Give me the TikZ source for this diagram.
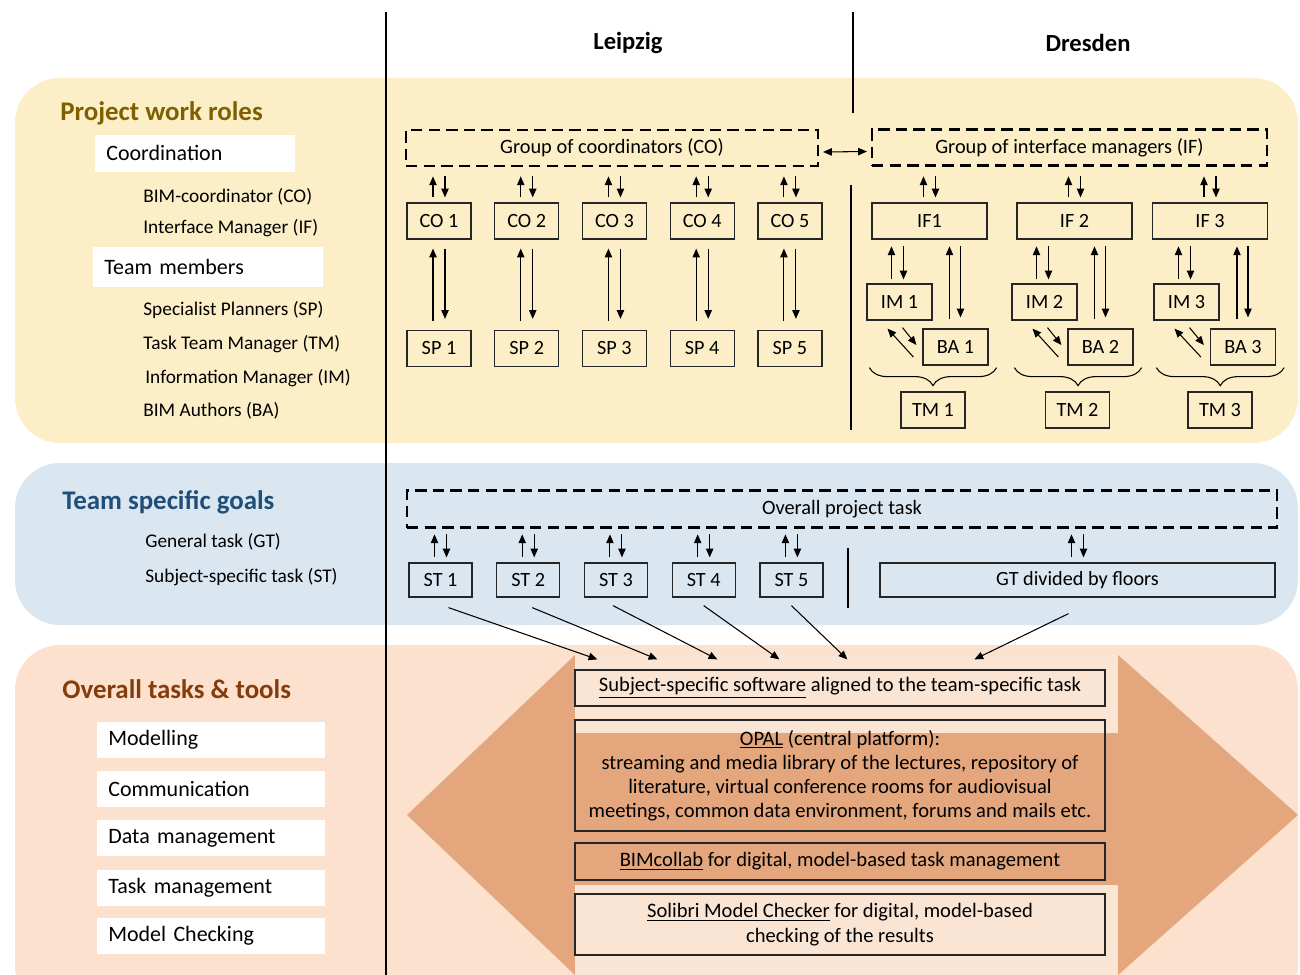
\documentclass[tikz,border=0pt]{standalone}
\usepackage{fontspec}
\setmainfont{Carlito}
\usetikzlibrary{arrows.meta, positioning, calc, decorations.pathreplacing}

\definecolor{roleyellow}{HTML}{FCEFC7}
\definecolor{goalblue}{HTML}{DAE6F0}
\definecolor{toolpeach}{HTML}{FBE1CE}
\definecolor{hexorange}{HTML}{E4A67D}
\definecolor{stripe}{HTML}{FAE4D4}
\definecolor{roletitle}{HTML}{7F6000}
\definecolor{goaltitle}{HTML}{1F4E79}
\definecolor{tooltitle}{HTML}{843C0C}

\tikzset{
  box/.style={
    rectangle, draw=black!85, line width=0.7pt,
    minimum width=#1, minimum height=7.2mm, inner sep=1pt,
    font=\fontsize{11.5}{13.5}\selectfont
  },
  box/.default=12.8mm,
  grp/.style={
    rectangle, draw=black, line width=1.2pt, dash pattern=on 6.5pt off 3.5pt,
    minimum width=#1, minimum height=7.2mm,
    font=\fontsize{11.6}{13.6}\selectfont
  },
  tag/.style={
    rectangle, fill=white, anchor=west, align=left, text width=#1,
    inner xsep=2.2mm, minimum height=7.4mm,
    font=\fontsize{12.5}{14.5}\selectfont
  },
  role/.style={anchor=west, inner sep=0pt, font=\fontsize{11}{13}\selectfont},
  head/.style={anchor=west, inner sep=0pt, text=#1, font=\bfseries\fontsize{15.3}{18}\selectfont},
  arr/.style={line width=0.6pt, -{Triangle[length=5pt,width=4.2pt]}},
  darr/.style={line width=0.6pt, {Triangle[length=5pt,width=4.2pt]}-{Triangle[length=5pt,width=4.2pt]}},
  brc/.style={line width=0.6pt, decorate, decoration={brace, amplitude=3.6mm}}
}

\begin{document}
\begin{tikzpicture}[x=0.2mm, y=-0.2mm,
    city/.style={font=\bfseries\fontsize{14}{16}\selectfont},
    tool/.style={box=106mm, font=\fontsize{11.7}{13.7}\selectfont}]
  \useasboundingbox (0,0) rectangle (1300,975);
  \clip (0,0) rectangle (1300,975);

  % bands
  \fill[roleyellow, rounded corners=9mm] (15,78) rectangle (1298,443);
  \fill[goalblue, rounded corners=9mm] (15,463) rectangle (1298,625);
  \fill[toolpeach, rounded corners=9mm] (15,645) rectangle (1298,1010);
  \fill[hexorange] (407,815) -- (575,655) -- (1118,655) -- (1298,815)
    -- (1118,975) -- (575,975) -- cycle;
  \fill[stripe] (575,655) rectangle (1118,733);
  \fill[stripe] (575,885) rectangle (1118,975);

  % separators
  \draw[line width=0.6pt] (386,12) -- (386,975);
  \draw[line width=0.6pt] (853,12) -- (853,113);
  \draw[line width=0.6pt] (851,185) -- (851,430);
  \draw[line width=0.6pt] (848,548) -- (848,608);

  \node[city] (leipzig) at (628,43) {Leipzig};
  \node[city] (dresden) at (1088,43) {Dresden};

  % left column
  \node[head=roletitle] (roles) at (60,113) {Project work roles};
  \node[tag=35.6mm] (coord) at (95,153) {Coordination};
  \node[role] (rco) at (143,197) {BIM-coordinator (CO)};
  \node[role] (rif) at (143,228) {Interface Manager (IF)};
  \node[tag=41.6mm, minimum height=8mm] (team) at (93,267) {Team members};
  \node[role] (rsp) at (143,310) {Specialist Planners (SP)};
  \node[role] (rtm) at (143,344) {Task Team Manager (TM)};
  \node[role] (rim) at (145,378) {Information Manager (IM)};
  \node[role] (rba) at (143,411) {BIM Authors (BA)};

  \node[head=goaltitle] (goals) at (62,502) {Team specific goals};
  \node[role] (rgt) at (145,542) {General task (GT)};
  \node[role] (rst) at (145,577) {Subject-specific task (ST)};

  \node[head=tooltitle] (tools) at (62,689) {Overall tasks \& tools};
  \node[tag=41.2mm, minimum height=7.2mm] (tmod) at (97,740) {Modelling};
  \node[tag=41.2mm, minimum height=7.2mm] (tcom) at (97,789) {Communication};
  \node[tag=41.2mm, minimum height=7.2mm] (tdat) at (97,838) {Data management};
  \node[tag=41.2mm, minimum height=7.2mm] (ttsk) at (97,888) {Task management};
  \node[tag=41.2mm, minimum height=7.2mm] (tchk) at (97,936) {Model Checking};

  % Leipzig
  \node[grp=82.4mm] (cogrp) at (612,148) {Group of coordinators (CO)};
  \node[box] (co1) at (439,221) {CO 1};
  \node[box, right=4.5mm of co1] (co2) {CO 2};
  \node[box, right=4.5mm of co2] (co3) {CO 3};
  \node[box, right=4.5mm of co3] (co4) {CO 4};
  \node[box, right=4.5mm of co4] (co5) {CO 5};
  \node[box] (sp1) at (439,348.5) {SP 1};
  \node[box, right=4.5mm of sp1] (sp2) {SP 2};
  \node[box, right=4.5mm of sp2] (sp3) {SP 3};
  \node[box, right=4.5mm of sp3] (sp4) {SP 4};
  \node[box, right=4.5mm of sp4] (sp5) {SP 5};

  % Dresden
  \node[grp=79mm] (ifgrp) at (1069.5,147.5) {Group of interface managers (IF)};
  \node[box=23mm] (if1) at (929.5,221) {IF1};
  \node[box=23mm] (if2) at (1074.5,221) {IF 2};
  \node[box=23mm] (if3) at (1210,221) {IF 3};
  \node[box=13mm] (im1) at (899.5,302) {IM 1};
  \node[box=13mm] (im2) at (1044.5,302) {IM 2};
  \node[box=13mm] (im3) at (1186.5,302) {IM 3};
  \node[box=13mm] (ba1) at (955.5,347) {BA 1};
  \node[box=13mm] (ba2) at (1100.5,347) {BA 2};
  \node[box=13mm] (ba3) at (1243,347) {BA 3};
  \node[box] (tm1) at (933,410) {TM 1};
  \node[box] (tm2) at (1077.5,410) {TM 2};
  \node[box] (tm3) at (1220,410) {TM 3};

  \draw[darr] ($(cogrp.east)+(4,4)$) -- ($(ifgrp.west)+(-4,4)$);

  \foreach \i in {1,...,5} {
    \draw[arr] ($(co\i.north)+(-6,-5)$) -- ($(co\i.north)+(-6,-26)$);
    \draw[arr] ($(co\i.north)+(6,-26)$) -- ($(co\i.north)+(6,-5)$);
    \draw[arr] ($(sp\i.north)+(-6,-9)$) -- ($(co\i.south)+(-6,9)$);
    \draw[arr] ($(co\i.south)+(6,9)$) -- ($(sp\i.north)+(6,-11)$);
  }
  \foreach \i in {1,2,3} {
    \draw[arr] ($(if\i.north)+(-6,-5)$) -- ($(if\i.north)+(-6,-26)$);
    \draw[arr] ($(if\i.north)+(6,-26)$) -- ($(if\i.north)+(6,-5)$);
    \draw[arr] ($(im\i.north)+(-8,-4)$) -- ($(im\i.north)+(-8,-37)$);
    \draw[arr] ($(im\i.north)+(4,-37)$) -- ($(im\i.north)+(4,-4)$);
    \draw[arr] ($(ba\i.north)+(-6,-9)$) -- ($(ba\i.north)+(-6,-82)$);
    \draw[arr] ($(ba\i.north)+(5,-82)$) -- ($(ba\i.north)+(5,-11)$);
    \draw[arr] ($(ba\i.west)+(-9,10)$) -- ($(im\i.south)+(-12,8)$);
    \draw[arr] ($(im\i.south)+(3,7)$) -- ($(ba\i.west)+(-6,-2)$);
    \draw[brc] ($(ba\i.south east)+(8,2)$) -- ($(im\i.west |- ba\i.south)+(3,2)$);
  }

  % goals
  \node[grp=174mm, minimum height=7.4mm] (task) at (842,509) {Overall project task};
  \node[box=12.6mm, minimum height=6.8mm] (st1) at (440.5,580) {ST 1};
  \node[box=12.6mm, minimum height=6.8mm, right=4.7mm of st1] (st2) {ST 2};
  \node[box=12.6mm, minimum height=6.8mm, right=4.7mm of st2] (st3) {ST 3};
  \node[box=12.6mm, minimum height=6.8mm, right=4.7mm of st3] (st4) {ST 4};
  \node[box=12.6mm, minimum height=6.8mm, right=4.7mm of st4] (st5) {ST 5};
  \node[box=79mm, minimum height=6.8mm] (gt) at (1077.5,580) {GT divided by floors};

  \foreach \n in {st1,st2,st3,st4,st5,gt} {
    \draw[arr] ($(\n.north)+(-6,-5)$) -- ($(\n.north)+(-6,-28)$);
    \draw[arr] ($(\n.north)+(6,-28)$) -- ($(\n.north)+(6,-5)$);
  }

  % tools
  \node[tool, fill=stripe] (soft) at (840,688)
    {\underline{Subject-specific software} aligned to the team-specific task};
  \node[tool, minimum height=22.2mm, align=center] (opal) at (840,775.5)
    {\underline{OPAL} (central platform):\\
     streaming and media library of the lectures, repository of\\
     literature, virtual conference rooms for audiovisual\\
     meetings, common data environment, forums and mails etc.};
  \node[tool, minimum height=7.4mm] (bimc) at (840,861.5)
    {\underline{BIMcollab} for digital, model-based task management};
  \node[tool, minimum height=12.2mm, fill=stripe, align=center,
        font=\fontsize{11.7}{14.2}\selectfont] (solibri) at (840,924.5)
    {\underline{Solibri Model Checker} for digital, model-based\\
     checking of the results};

  \draw[arr] ($(st1.south)+(8,10)$) -- ($(soft.north west)+(23,-10)$);
  \draw[arr] ($(st2.south)+(4,10)$) -- ($(soft.north west)+(83,-10)$);
  \draw[arr] ($(st3.south)+(-3,8)$) -- ($(soft.north west)+(143,-10)$);
  \draw[arr] ($(st4.south)+(0,8)$) -- ($(soft.north west)+(205,-10)$);
  \draw[arr] ($(st5.south)+(0,8)$) -- ($(soft.north west)+(273,-10)$);
  \draw[arr] ($(gt.south)+(-9,16)$) -- ($(soft.north west)+(400,-10)$);
\end{tikzpicture}
\end{document}
